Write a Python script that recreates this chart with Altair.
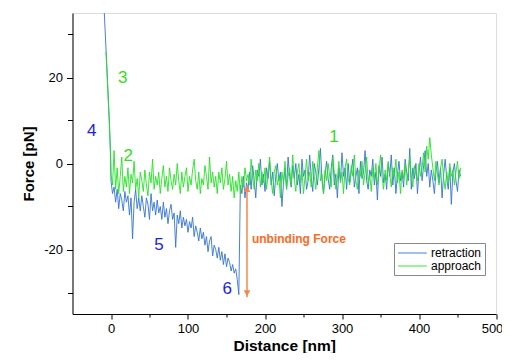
import altair as alt
import pandas as pd

# ---------------- data ----------------
# steep contact region (distance nm, force pN)
ret_steep_x = [-8.7, -5.0, -2.0, -0.5]
ret_steep_y = [35.0, 21.0, 9.5, 1.0]
app_steep_x = [-6.5, -3.0, -0.5]
app_steep_y = [26.0, 12.5, 2.0]

# sampled distances 0..454 nm (2 nm spacing)
dist = [0, 2, 4, 6, 8, 10, 12, 14, 16, 18, 20, 22, 24, 26, 28, 30, 32, 34, 36, 38,
        40, 42, 44, 46, 48, 50, 52, 54, 56, 58, 60, 62, 64, 66, 68, 70, 72, 74, 76, 78,
        80, 82, 84, 86, 88, 90, 92, 94, 96, 98, 100, 102, 104, 106, 108, 110, 112, 114, 116, 118,
        120, 122, 124, 126, 128, 130, 132, 134, 136, 138, 140, 142, 144, 146, 148, 150, 152, 154, 156, 158,
        160, 162, 164, 166, 168, 170, 172, 174, 176, 178, 180, 182, 184, 186, 188, 190, 192, 194, 196, 198,
        200, 202, 204, 206, 208, 210, 212, 214, 216, 218, 220, 222, 224, 226, 228, 230, 232, 234, 236, 238,
        240, 242, 244, 246, 248, 250, 252, 254, 256, 258, 260, 262, 264, 266, 268, 270, 272, 274, 276, 278,
        280, 282, 284, 286, 288, 290, 292, 294, 296, 298, 300, 302, 304, 306, 308, 310, 312, 314, 316, 318,
        320, 322, 324, 326, 328, 330, 332, 334, 336, 338, 340, 342, 344, 346, 348, 350, 352, 354, 356, 358,
        360, 362, 364, 366, 368, 370, 372, 374, 376, 378, 380, 382, 384, 386, 388, 390, 392, 394, 396, 398,
        400, 402, 404, 406, 408, 410, 412, 414, 416, 418, 420, 422, 424, 426, 428, 430, 432, 434, 436, 438,
        440, 442, 444, 446, 448, 450, 452, 454]

approach = [
    -2.5, -5, 3, -6, -1, -7, -3, 1.5, -6.5, -3,
    -5.5, -1, -7, -2.5, -4.5, 0.5, -6, -3.5, -8, -2,
    -4, -6.5, -1.5, -5, -7.5, -2, -4.5, 1, -6, -3,
    -5, -2, -7, -3.5, -0.5, -5.5, -3, -6.5, -1, -4,
    -6, -2.5, -5, 0, -4, -7, -2, -5.5, -3, -1,
    -6.5, -3, -5, -1.5, 1, -4, -6, -2, -7, -3.5,
    -5, -0.5, -3, -6, 1.5, -4.5, -2, -5.5, -3, -7,
    -2, -4.5, -1, -6, -3.5, 0.5, -5, -2.5, -6.5, -3,
    -8, -4, -6.5, -2, -7, -3, -5.5, -1, -4, -2.5,
    -5, 1, -3.5, -6, -1.5, -4, 0, -5.5, -2, -4.5,
    -1, -6, -2.5, 1.5, -4, -7, -2, -0.5, -5, -3,
    -8, -2, -4.5, 0.5, -6, -3, -1, -5, 2, -3.5,
    -6.5, -2, 0, -4.5, -1.5, -7, -3, 1, -4, -2,
    -5.5, 0.5, -3, -6, -1, 3, -4, -2.5, -7, -1.5,
    -4, 0, -3, -5.5, 1.5, -2, -6, -3.5, 0.5, -4.5,
    -2, -7, -1, 1, -3.5, -5, -0.5, -3, 2, -4,
    -6, -1.5, -3, 0.5, -5, -2, 1.5, -4.5, -2.5, -6.5,
    -1, -3.5, 0, -5, -2, 2, -3, -6, -1.5, -4,
    0.5, -2.5, -5.5, -1, -3, 1, -4.5, -2, -7, -1.5,
    -3.5, 0, -5, -2, 1.5, -3, -5.5, -0.5, -2.5, -4,
    0, -3, -1, 2.5, -2, 4, 1, 6, 2, -1,
    -4, 0.5, -2.5, -5, -1, 1, -3.5, -6, -2, -4.5,
    0, -3, -1.5, -5, -2, 0.5, -3.5, -1]

retraction = [
    -4, -7, -5.5, -9, -6, -10.5, -7, -8.5, -11, -6.5,
    -9, -7.5, -12, -8, -17.5, -9, -6, -10.5, -8, -11,
    -7.5, -10, -12.5, -8, -9.5, -13, -7, -11, -9, -12,
    -8.5, -11.5, -10, -13, -9, -12.5, -10.5, -14, -11, -9.5,
    -13, -11.5, -19.5, -12, -14, -11, -15, -12.5, -14.5, -13,
    -16, -13.5, -15, -12.5, -17, -14.5, -16, -18, -15, -17.5,
    -16, -19, -17, -20.5, -18, -17, -21.5, -19, -20, -22,
    -19.5, -22.5, -20.5, -23.5, -21, -24, -22, -23, -25, -23.5,
    -25.5, -24.5, -27, -30.5, -5, -7, -3, -8, -4.5, -6,
    -2, -6, -0.5, -4, -8, -1.5, -3, 1, -5, -2.5,
    -6.5, -1, -3.5, 0.5, -5, -2, -7.5, -3, 0, -4,
    -2, -10, -4.5, -1, -6, 1.5, -3, -5.5, -0.5, -3.5,
    0, -5, -2.5, -7, 1, -3, -1.5, -6, -4, 2,
    -3, -6.5, 0, -2, -5, -1, 3.5, -4, -7, -2.5,
    0.5, -3.5, -6, -1, 2, -5, -2.5, -8, -1, -4,
    2.5, -3, -1, -6, 0, -4.5, -2, 1, -5.5, -3,
    -1, -7, 0.5, -3.5, -2, 3, -4, -6, -1.5, -3,
    1, -5, -2, -8.5, -0.5, -3, 1.5, -4.5, -2.5, -6,
    0, -3, 2, -5, -1, -7, -2.5, 0.5, -4, -2,
    -5.5, 1, -2, -4, 3.5, -6, -1, -3.5, 0, -7,
    -2, 1.5, -4, -0.5, 3, -3, 0, -5.5, -1.5, -4,
    -7, -2, 0.5, -4.5, -1, -8, -2.5, 1, -3.5, -6,
    -1, -9.5, -2, 0, -4, -6.5, -1.5, -3]

series_names = ["retraction", "approach"]
series_colors = ["#3473d6", "#22e322"]

# numbered annotations
lab_text = ["1", "2", "3", "4", "5", "6"]
lab_x = [289.6, 22.5, 15.2, -25.0, 62.3, 151.0]
lab_y = [6.1, 1.7, 20.0, 7.5, -19.0, -29.3]
lab_color = ["#33dd22", "#33dd22", "#33dd22", "#2222dd", "#2222dd", "#2222dd"]

# unbinding force arrow + label
arrow_x = [176.6]
arrow_top = [-5.05]
arrow_bottom = [-31.1]
unbind_text = ["unbinding Force"]
unbind_x = [183.0]
unbind_y = [-17.6]

# axes
x_ticks = [0, 50, 100, 150, 200, 250, 300, 350, 400, 450, 500]
y_ticks = [-30, -20, -10, 0, 10, 20, 30]

# ---------------- build tables ----------------
rows = []
i = 0
for x, y in zip(ret_steep_x + dist, ret_steep_y + retraction):
    rows.append({"d": x, "f": y, "s": "retraction", "i": i}); i += 1
for x, y in zip(app_steep_x + dist, app_steep_y + approach):
    rows.append({"d": x, "f": y, "s": "approach", "i": i}); i += 1
df = pd.DataFrame(rows)

labels_df = pd.DataFrame({"t": lab_text, "x": lab_x, "y": lab_y, "c": lab_color})
arrow_df = pd.DataFrame({"x": arrow_x, "y1": arrow_top, "y2": arrow_bottom})
unbind_df = pd.DataFrame({"t": unbind_text, "x": unbind_x, "y": unbind_y})

FONT = "Liberation Sans"

xs = alt.Scale(domain=[-50, 500], nice=False, zero=False)
ys = alt.Scale(domain=[-35, 35], nice=False, zero=False)

x_axis = alt.Axis(
    values=x_ticks, grid=False, title="Distance [nm]",
    labelExpr="datum.value % 100 === 0 ? '' + datum.value : ''",
    tickSize={"condition": {"test": "datum.value % 100 === 0", "value": 5}, "value": 3},
    labelOffset={"condition": {"test": "datum.value === 500", "value": -4}, "value": 0},
    labelFontSize=13, labelPadding=3, titleFontSize=15.5, titleFontWeight="bold",
    titlePadding=3, domainColor="black", tickColor="black", labelColor="black",
    titleColor="black", labelFont=FONT, titleFont=FONT, labelFlush=False,
    labelBound=False,
)
y_axis = alt.Axis(
    values=y_ticks, grid=False, title="Force [pN]",
    labelExpr="datum.value % 20 === 0 ? '' + datum.value : ''",
    tickSize={"condition": {"test": "datum.value % 20 === 0", "value": 6}, "value": 5},
    labelFontSize=13, labelPadding=4, titleFontSize=15, titleFontWeight="bold",
    titlePadding=7, domainColor="black", tickColor="black", labelColor="black",
    titleColor="black", labelFont=FONT, titleFont=FONT, labelFlush=False,
)

color = alt.Color(
    "s:N",
    scale=alt.Scale(domain=series_names, range=series_colors),
    legend=alt.Legend(
        title=None, orient="none", legendX=321.5, legendY=230,
        strokeColor="#888888", padding=3, symbolType="M-1,0H3.8",
        symbolSize=144, symbolStrokeWidth=2, symbolOpacity=0.45,
        labelFontSize=12, labelFont=FONT, labelColor="black",
        rowPadding=0, labelOffset=20, cornerRadius=0,
    ),
)

base = alt.Chart(df)
ret_line = base.transform_filter(alt.datum.s == "retraction").mark_line(
    strokeWidth=1, opacity=0.9, clip=True
).encode(
    x=alt.X("d:Q", scale=xs, axis=x_axis),
    y=alt.Y("f:Q", scale=ys, axis=y_axis),
    color=color,
    order="i:Q",
)
app_line = base.transform_filter(alt.datum.s == "approach").mark_line(
    strokeWidth=1, opacity=0.9, clip=True
).encode(
    x=alt.X("d:Q", scale=xs),
    y=alt.Y("f:Q", scale=ys),
    color=color,
    order="i:Q",
)

labels = alt.Chart(labels_df).mark_text(fontSize=17, font=FONT).encode(
    x=alt.X("x:Q", scale=xs), y=alt.Y("y:Q", scale=ys),
    text="t:N", color=alt.Color("c:N", scale=None),
)

arrow_rule = alt.Chart(arrow_df).mark_rule(color="#f7864a", strokeWidth=1.5).encode(
    x=alt.X("x:Q", scale=xs), y=alt.Y("y1:Q", scale=ys), y2="y2:Q",
)
arrow_up = alt.Chart(arrow_df).mark_point(
    shape="triangle-up", filled=True, size=45, color="#f7864a", opacity=1, yOffset=4
).encode(x=alt.X("x:Q", scale=xs), y=alt.Y("y1:Q", scale=ys))
arrow_down = alt.Chart(arrow_df).mark_point(
    shape="triangle-down", filled=True, size=45, color="#f7864a", opacity=1, yOffset=-4
).encode(x=alt.X("x:Q", scale=xs), y=alt.Y("y2:Q", scale=ys))

unbind = alt.Chart(unbind_df).mark_text(
    fontSize=12, fontWeight="bold", font=FONT, color="#ff6a1f", align="left"
).encode(x=alt.X("x:Q", scale=xs), y=alt.Y("y:Q", scale=ys), text="t:N")

chart = alt.layer(
    ret_line, app_line, arrow_rule, arrow_up, arrow_down, labels, unbind
).properties(
    width=423.5, height=301,
    autosize=alt.AutoSizeParams(type="none"),
    padding={"left": 64.5, "top": 5, "right": 6, "bottom": 39},
).configure_view(stroke=None).configure(background="white")

chart.save("out.html", embed_options={"renderer": "svg", "actions": False})
